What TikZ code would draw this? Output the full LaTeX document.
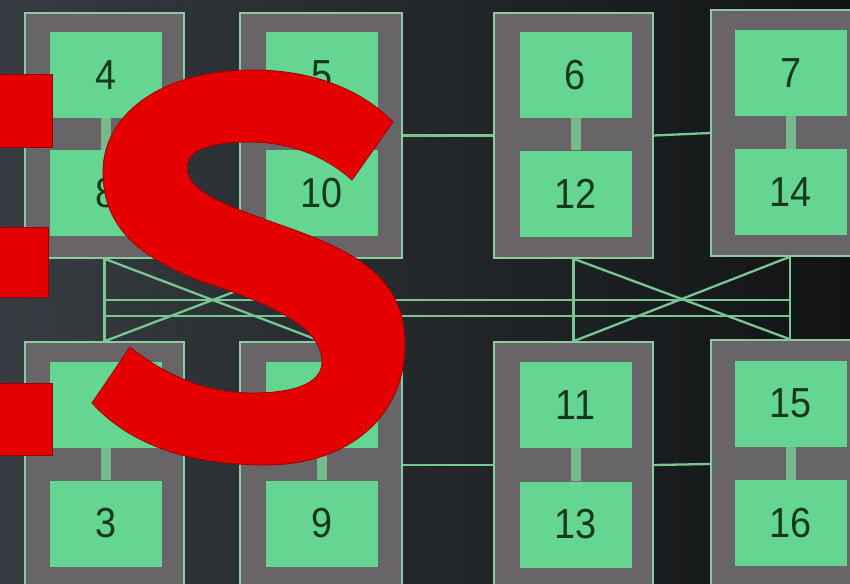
\documentclass[tikz,border=0pt]{standalone}
\usepackage{fontspec}
\setmainfont{Liberation Sans}
\usetikzlibrary{calc}
\definecolor{bgL}{HTML}{363C41}
\definecolor{bgR}{HTML}{111314}
\definecolor{frameFill}{HTML}{686569}
\definecolor{frameLine}{HTML}{8CC8A0}
\definecolor{innerLine}{HTML}{7A5E6A}
\definecolor{padGreen}{HTML}{64D692}
\definecolor{linkGreen}{HTML}{76B98D}
\definecolor{busGreen}{HTML}{78C692}
\definecolor{digit}{HTML}{15381F}
\definecolor{markRed}{HTML}{E50000}
\definecolor{markEdge}{HTML}{9B0000}
\tikzset{
  frame/.style={draw=frameLine, line width=1.5pt, fill=frameFill, inner sep=0pt},
  innerrect/.style={draw=innerLine, line width=0.9pt},
  pad/.style={fill=padGreen, inner sep=0pt, minimum width=112pt, minimum height=86pt,
    text=digit, font=\fontsize{42}{42}\selectfont},
  link/.style={draw=linkGreen, line width=10pt},
  wire/.style={draw=busGreen, line width=2.3pt},
  redmark/.style={fill=markRed, draw=markEdge, line width=0.8pt},
}
\newcommand\dg[1]{\scalebox{0.9}[1]{#1}}
\begin{document}
\begin{tikzpicture}[x=1pt,y=-1pt]
\useasboundingbox (0,0) rectangle (850,583);
\clip (0,0) rectangle (850,583);
\shade[left color=bgL, right color=bgR] (0,0) rectangle (850,583);

% frames
\node[frame, minimum width=159pt, minimum height=245pt] (f1) at (104.5,135.5) {};
\node[frame, minimum width=162pt, minimum height=245pt] (f2) at (321,135.5) {};
\node[frame, minimum width=159pt, minimum height=245pt] (f3) at (573.5,135.5) {};
\node[frame, minimum width=158pt, minimum height=246pt] (f4) at (790,133) {};
\node[frame, minimum width=159pt, minimum height=246pt] (f5) at (104.5,465) {};
\node[frame, minimum width=162pt, minimum height=246pt] (f6) at (321,465) {};
\node[frame, minimum width=159pt, minimum height=246pt] (f7) at (573.5,465) {};
\node[frame, minimum width=158pt, minimum height=248pt] (f8) at (790,464) {};
\foreach \f in {f1,f2,f3,f4,f5,f6,f7,f8}{
  \draw[innerrect] ($(\f.north west)+(13,13)$) rectangle ($(\f.south east)+(-13,-13)$);
}

% pads
\node[pad] (g4)  at (106,75)     {\dg{4}};
\node[pad] (g8)  at (106,193)    {\dg{8}};
\node[pad] (g5)  at (322,75)     {\dg{5}};
\node[pad] (g10) at (322,193)    {\dg{10}};
\node[pad] (g6)  at (575.5,75)   {\dg{6}};
\node[pad] (g12) at (575.5,193.5){\dg{12}};
\node[pad] (g7)  at (790.5,73)   {\dg{7}};
\node[pad] (g14) at (790.5,192)  {\dg{14}};
\node[pad] (gA)  at (106,404.5)  {};
\node[pad] (g3)  at (106,523.5)  {\dg{3}};
\node[pad] (gB)  at (322,404.5)  {};
\node[pad] (g9)  at (322,523.5)  {\dg{9}};
\node[pad] (g11) at (575.5,405)  {\dg{11}};
\node[pad] (g13) at (575.5,524.5){\dg{13}};
\node[pad] (g15) at (790.5,403.5){\dg{15}};
\node[pad] (g16) at (790.5,523)  {\dg{16}};

% links inside frames
\draw[link] (g4) -- (g8);
\draw[link] (g5) -- (g10);
\draw[link] (g6) -- (g12);
\draw[link] (g7) -- (g14);
\draw[link] (gA) -- (g3);
\draw[link] (gB) -- (g9);
\draw[link] (g11) -- (g13);
\draw[link] (g15) -- (g16);

% lines between frames
\draw[wire] (f2.east) -- (f3.west);
\draw[wire] (f3.east) -- (f4.west);
\draw[wire] (f6.east) -- (f7.west);
\draw[wire] (f7.east) -- (f8.west);

% bus between rows
\coordinate (busA) at (0,300);
\coordinate (busB) at (0,316);
\draw[wire] (f1.south) -- (f5.north);
\draw[wire] (f2.south) -- (f6.north);
\draw[wire] (f3.south) -- (f7.north);
\draw[wire] (f4.south) -- (f8.north);
\draw[wire] (f1.south |- busA) -- (f4.south |- busA);
\draw[wire] (f1.south |- busB) -- (f4.south |- busB);
\draw[wire] (f1.south) -- (f6.north);
\draw[wire] (f5.north) -- (f2.south);
\draw[wire] (f3.south) -- (f8.north);
\draw[wire] (f7.north) -- (f4.south);

% red overlay letters
\fill[redmark] (-5,74) rectangle (52,147);
\fill[redmark] (-5,227) rectangle (48,297);
\fill[redmark] (-5,383) rectangle (52,455);
\filldraw[redmark] (393,122)
  .. controls (360,88) and (310,70) .. (253,70)
  .. controls (160,70) and (103,115) .. (103,172)
  .. controls (103,228) and (140,257) .. (200,281)
  .. controls (280,306) and (322,330) .. (322,362)
  .. controls (322,385) and (290,393) .. (253,393)
  .. controls (205,393) and (165,375) .. (130,347)
  -- (92,403)
  .. controls (130,445) and (190,465) .. (265,465)
  .. controls (350,465) and (405,415) .. (405,345)
  .. controls (405,280) and (360,255) .. (300,232)
  .. controls (240,210) and (187,195) .. (187,168)
  .. controls (187,148) and (215,142) .. (250,142)
  .. controls (295,142) and (330,160) .. (352,180)
  -- cycle;
\end{tikzpicture}
\end{document}
